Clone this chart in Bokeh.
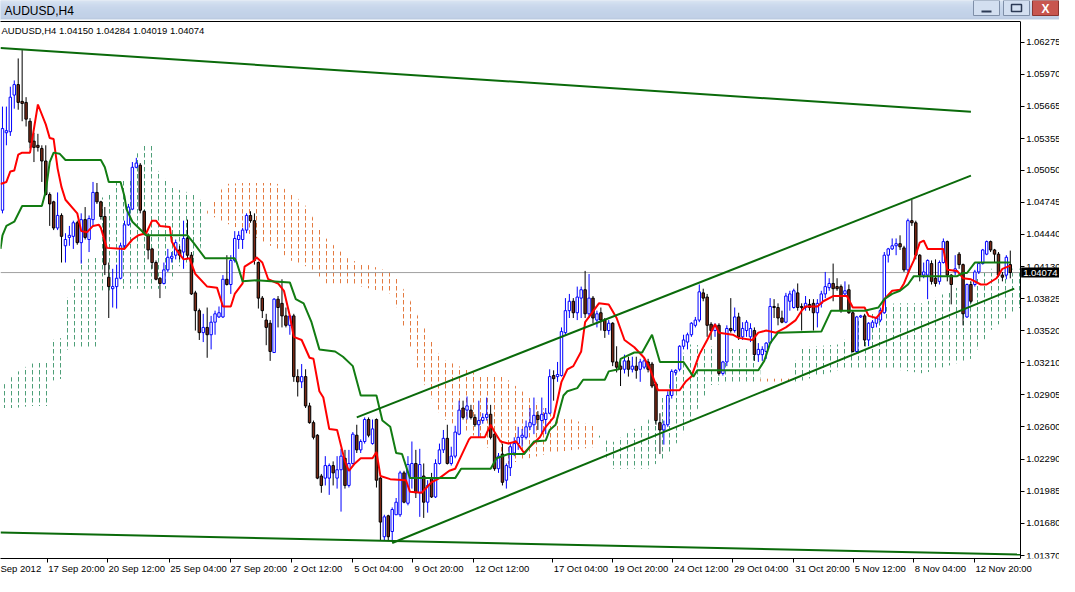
from bokeh.plotting import figure
from bokeh.models import (Range1d, FixedTicker, PrintfTickFormatter, Label, ColumnDataSource,
                          CustomJSTickFormatter, LinearAxis)
from bokeh.layouts import column
from bokeh.embed import file_html
from bokeh.resources import INLINE

# ---------------- data ----------------
opens = [1.0467,1.0541,1.0542,1.0577,1.0587,1.0571,1.0570,1.0552,1.0533,1.0529,
1.0526,1.0514,1.0482,1.0475,1.0450,1.0462,1.0433,1.0441,1.0442,1.0455,
1.0436,1.0458,1.0439,1.0458,1.0484,1.0475,1.0461,1.0403,1.0392,1.0394,
1.0402,1.0433,1.0453,1.0468,1.0508,1.0510,1.0466,1.0443,1.0430,1.0417,
1.0402,1.0397,1.0410,1.0421,1.0424,1.0429,1.0427,1.0440,1.0424,1.0388,
1.0371,1.0350,1.0355,1.0348,1.0360,1.0365,1.0365,1.0401,1.0396,1.0419,
1.0439,1.0439,1.0448,1.0462,1.0457,1.0417,1.0383,1.0362,1.0359,1.0331,
1.0382,1.0378,1.0366,1.0357,1.0366,1.0308,1.0303,1.0308,1.0280,1.0264,
1.0252,1.0213,1.0211,1.0211,1.0223,1.0211,1.0219,1.0230,1.0204,1.0225,
1.0252,1.0238,1.0246,1.0267,1.0244,1.0267,1.0211,1.0155,1.0175,1.0160,
1.0176,1.0176,1.0216,1.0187,1.0211,1.0225,1.0197,1.0213,1.0188,1.0211,
1.0193,1.0225,1.0238,1.0249,1.0225,1.0232,1.0253,1.0278,1.0276,1.0276,
1.0269,1.0262,1.0266,1.0269,1.0272,1.0253,1.0220,1.0234,1.0209,1.0221,
1.0235,1.0244,1.0250,1.0250,1.0260,1.0262,1.0271,1.0266,1.0267,1.0273,
1.0309,1.0308,1.0309,1.0350,1.0371,1.0380,1.0369,1.0383,1.0391,1.0368,
1.0383,1.0362,1.0369,1.0362,1.0352,1.0359,1.0322,1.0318,1.0315,1.0323,
1.0315,1.0318,1.0315,1.0317,1.0322,1.0320,1.0301,1.0264,1.0257,1.0262,
1.0290,1.0312,1.0315,1.0337,1.0341,1.0348,1.0357,1.0362,1.0388,1.0384,
1.0358,1.0352,1.0357,1.0311,1.0322,1.0354,1.0352,1.0365,1.0346,1.0352,
1.0346,1.0352,1.0329,1.0329,1.0332,1.0340,1.0375,1.0374,1.0364,1.0360,
1.0380,1.0374,1.0388,1.0375,1.0374,1.0377,1.0378,1.0369,1.0378,1.0387,
1.0393,1.0397,1.0394,1.0394,1.0387,1.0391,1.0369,1.0332,1.0365,1.0366,
1.0343,1.0355,1.0359,1.0362,1.0369,1.0424,1.0430,1.0433,1.0435,1.0431,
1.0410,1.0457,1.0455,1.0424,1.0405,1.0405,1.0416,1.0402,1.0399,1.0417,
1.0437,1.0405,1.0408,1.0425,1.0415,1.0365,1.0396,1.0396,1.0408,1.0416,
1.0425,1.0437,1.0429,1.0425,1.0405,1.0405,1.04150]

highs = [1.0566,1.0566,1.0585,1.0591,1.0612,1.0620,1.0575,1.0555,1.0541,1.0540,
1.0529,1.0529,1.0484,1.0476,1.0484,1.0464,1.0445,1.0452,1.0457,1.0457,
1.0464,1.0470,1.0462,1.0494,1.0493,1.0476,1.0470,1.0417,1.0411,1.0415,
1.0436,1.0457,1.0473,1.0513,1.0517,1.0512,1.0467,1.0445,1.0431,1.0419,
1.0403,1.0417,1.0430,1.0427,1.0439,1.0433,1.0457,1.0458,1.0427,1.0390,
1.0373,1.0368,1.0374,1.0366,1.0371,1.0375,1.0405,1.0424,1.0424,1.0447,
1.0447,1.0450,1.0464,1.0466,1.0464,1.0418,1.0385,1.0368,1.0362,1.0383,
1.0385,1.0401,1.0374,1.0367,1.0368,1.0315,1.0320,1.0315,1.0283,1.0266,
1.0253,1.0215,1.0232,1.0225,1.0227,1.0232,1.0239,1.0238,1.0238,1.0255,
1.0262,1.0248,1.0269,1.0269,1.0267,1.0268,1.0212,1.0176,1.0176,1.0183,
1.0192,1.0218,1.0218,1.0232,1.0246,1.0238,1.0239,1.0225,1.0209,1.0216,
1.0229,1.0244,1.0257,1.0262,1.0241,1.0261,1.0285,1.0285,1.0289,1.0281,
1.0272,1.0285,1.0273,1.0288,1.0281,1.0254,1.0235,1.0244,1.0225,1.0244,
1.0250,1.0260,1.0258,1.0266,1.0278,1.0288,1.0275,1.0288,1.0278,1.0315,
1.0314,1.0322,1.0355,1.0383,1.0387,1.0383,1.0394,1.0394,1.0409,1.0406,
1.0385,1.0371,1.0374,1.0364,1.0362,1.0360,1.0337,1.0325,1.0329,1.0327,
1.0327,1.0327,1.0325,1.0326,1.0325,1.0322,1.0303,1.0273,1.0266,1.0294,
1.0315,1.0315,1.0338,1.0348,1.0350,1.0360,1.0365,1.0396,1.0392,1.0387,
1.0360,1.0359,1.0359,1.0323,1.0357,1.0383,1.0374,1.0369,1.0360,1.0362,
1.0359,1.0355,1.0340,1.0337,1.0341,1.0383,1.0382,1.0378,1.0371,1.0388,
1.0390,1.0392,1.0397,1.0378,1.0385,1.0382,1.0382,1.0382,1.0390,1.0408,
1.0402,1.0416,1.0402,1.0396,1.0399,1.0396,1.0371,1.0366,1.0367,1.0368,
1.0360,1.0362,1.0365,1.0374,1.0427,1.0431,1.0440,1.0440,1.0443,1.0433,
1.0459,1.0477,1.0457,1.0425,1.0417,1.0420,1.0419,1.0420,1.0419,1.0440,
1.0438,1.0406,1.0424,1.0427,1.0416,1.0397,1.0399,1.0410,1.0417,1.0430,
1.0438,1.0438,1.0430,1.0427,1.0408,1.0424,1.04284]

lows = [1.0464,1.0529,1.0538,1.0564,1.0563,1.0552,1.0547,1.0526,1.0513,1.0523,
1.0494,1.0481,1.0452,1.0448,1.0448,1.0417,1.0417,1.0433,1.0430,1.0434,
1.0416,1.0439,1.0427,1.0452,1.0473,1.0458,1.0405,1.0364,1.0374,1.0373,
1.0401,1.0430,1.0452,1.0467,1.0507,1.0464,1.0443,1.0420,1.0411,1.0400,
1.0383,1.0396,1.0408,1.0417,1.0420,1.0420,1.0411,1.0420,1.0386,1.0352,
1.0343,1.0341,1.0326,1.0334,1.0348,1.0364,1.0364,1.0395,1.0387,1.0417,
1.0430,1.0430,1.0445,1.0455,1.0415,1.0373,1.0364,1.0338,1.0323,1.0331,
1.0355,1.0355,1.0355,1.0348,1.0303,1.0289,1.0297,1.0278,1.0263,1.0248,
1.0210,1.0197,1.0204,1.0195,1.0204,1.0201,1.0179,1.0201,1.0202,1.0224,
1.0235,1.0235,1.0244,1.0250,1.0243,1.0202,1.0151,1.0151,1.0151,1.0150,
1.0176,1.0174,1.0187,1.0185,1.0201,1.0192,1.0174,1.0173,1.0178,1.0192,
1.0192,1.0224,1.0235,1.0224,1.0223,1.0230,1.0252,1.0267,1.0267,1.0267,
1.0260,1.0250,1.0263,1.0266,1.0248,1.0218,1.0216,1.0204,1.0201,1.0213,
1.0232,1.0238,1.0241,1.0248,1.0257,1.0253,1.0257,1.0253,1.0253,1.0272,
1.0285,1.0303,1.0308,1.0348,1.0364,1.0364,1.0362,1.0364,1.0364,1.0364,
1.0359,1.0355,1.0352,1.0345,1.0348,1.0318,1.0312,1.0299,1.0311,1.0308,
1.0312,1.0306,1.0303,1.0315,1.0312,1.0297,1.0262,1.0234,1.0243,1.0260,
1.0287,1.0309,1.0313,1.0334,1.0334,1.0346,1.0355,1.0360,1.0380,1.0346,
1.0343,1.0346,1.0309,1.0309,1.0318,1.0350,1.0350,1.0343,1.0343,1.0346,
1.0341,1.0323,1.0322,1.0323,1.0325,1.0339,1.0364,1.0357,1.0359,1.0359,
1.0371,1.0373,1.0371,1.0352,1.0371,1.0371,1.0352,1.0355,1.0374,1.0383,
1.0390,1.0380,1.0390,1.0369,1.0385,1.0368,1.0331,1.0331,1.0364,1.0337,
1.0337,1.0355,1.0355,1.0360,1.0368,1.0417,1.0429,1.0424,1.0429,1.0408,
1.0408,1.0452,1.0420,1.0399,1.0402,1.0382,1.0396,1.0394,1.0396,1.0416,
1.0399,1.0377,1.0405,1.0411,1.0357,1.0364,1.0378,1.0394,1.0406,1.0415,
1.0424,1.0427,1.0417,1.0403,1.0399,1.0401,1.04019]

closes = [1.0545,1.0543,1.0575,1.0587,1.0570,1.0569,1.0554,1.0532,1.0527,1.0527,
1.0514,1.0482,1.0473,1.0450,1.0462,1.0442,1.0439,1.0443,1.0455,1.0436,
1.0458,1.0441,1.0459,1.0484,1.0475,1.0461,1.0415,1.0394,1.0394,1.0402,
1.0433,1.0453,1.0470,1.0508,1.0512,1.0467,1.0445,1.0429,1.0417,1.0401,
1.0397,1.0410,1.0422,1.0423,1.0436,1.0424,1.0440,1.0424,1.0387,1.0371,
1.0350,1.0355,1.0348,1.0360,1.0368,1.0369,1.0401,1.0396,1.0419,1.0440,
1.0443,1.0448,1.0462,1.0457,1.0419,1.0383,1.0371,1.0355,1.0332,1.0382,
1.0374,1.0366,1.0357,1.0366,1.0308,1.0303,1.0308,1.0280,1.0264,1.0250,
1.0211,1.0204,1.0223,1.0223,1.0216,1.0219,1.0232,1.0204,1.0225,1.0253,
1.0238,1.0246,1.0267,1.0252,1.0258,1.0209,1.0169,1.0174,1.0155,1.0181,
1.0188,1.0216,1.0188,1.0224,1.0225,1.0197,1.0224,1.0188,1.0204,1.0193,
1.0225,1.0238,1.0249,1.0225,1.0232,1.0255,1.0276,1.0269,1.0280,1.0269,
1.0262,1.0266,1.0269,1.0272,1.0250,1.0220,1.0232,1.0207,1.0223,1.0241,
1.0244,1.0250,1.0252,1.0260,1.0264,1.0271,1.0267,1.0272,1.0273,1.0308,
1.0306,1.0310,1.0351,1.0371,1.0380,1.0369,1.0384,1.0391,1.0368,1.0383,
1.0364,1.0368,1.0362,1.0352,1.0359,1.0322,1.0317,1.0315,1.0323,1.0315,
1.0318,1.0314,1.0322,1.0323,1.0315,1.0299,1.0266,1.0257,1.0262,1.0290,
1.0313,1.0314,1.0337,1.0343,1.0348,1.0359,1.0362,1.0389,1.0383,1.0357,
1.0352,1.0357,1.0311,1.0322,1.0354,1.0352,1.0365,1.0346,1.0354,1.0360,
1.0354,1.0329,1.0334,1.0334,1.0340,1.0375,1.0374,1.0364,1.0360,1.0385,
1.0387,1.0390,1.0374,1.0374,1.0378,1.0374,1.0369,1.0378,1.0387,1.0394,
1.0397,1.0392,1.0392,1.0371,1.0390,1.0369,1.0332,1.0365,1.0366,1.0343,
1.0359,1.0360,1.0364,1.0371,1.0424,1.0430,1.0433,1.0435,1.0432,1.0410,
1.0457,1.0455,1.0424,1.0405,1.0408,1.0419,1.0399,1.0397,1.0417,1.0437,
1.0405,1.0396,1.0411,1.0415,1.0368,1.0396,1.0380,1.0408,1.0416,1.0429,
1.0437,1.0429,1.0425,1.0405,1.0403,1.0422,1.04074]

# Tenkan-sen (red) vertices: bar position, price
tenkan_x = [-0.5,1,2,3,4,5,7,9,11,12,13,14,15,16,19,20,21.5,23,24.5,25,26.5,31,33,34.5,36.5,38,39,40,42.5,43,44,45,46,47.5,49,52,54.5,56,58,59,61,61.5,64,64.5,66,67.5,70,71.5,73,74,76,78,79,80.5,81.5,83,85,87,88,89.5,91,94,95,96,98.5,102.5,103.5,106.5,109,111,113.5,115,116.5,118.5,119,122.5,124,125,126.5,128.5,130.5,132.5,134,136.5,138,140,142,143.5,145,147,148,149,151.5,154,156,158,160.5,163,164.5,166.5,172,173.5,175,177,179,181,182,185.5,187,190.5,192,194,196.5,199,201.5,203,204,207,208.5,211,214.5,216,219,220,222,223.5,224,226,228,229,230.5,231.5,233,234,235,239,240,242.5,244,246,248.5,250,252.5,254,256]
tenkan_y = [1.0492,1.0494,1.0504,1.0505,1.0520,1.0522,1.0522,1.0568,1.0549,1.0536,1.0535,1.0507,1.0489,1.0477,1.0464,1.0447,1.0446,1.0452,1.0453,1.0450,1.0431,1.0430,1.0439,1.0443,1.0445,1.0457,1.0457,1.0452,1.0451,1.0437,1.0430,1.0425,1.0420,1.0421,1.0406,1.0394,1.0393,1.0375,1.0375,1.0387,1.0397,1.0413,1.0419,1.0422,1.0417,1.0401,1.0397,1.0390,1.0366,1.0346,1.0343,1.0326,1.0325,1.0294,1.0288,1.0258,1.0257,1.0227,1.0218,1.0225,1.0230,1.0230,1.0236,1.0213,1.0210,1.0209,1.0198,1.0197,1.0207,1.0211,1.0218,1.0220,1.0232,1.0248,1.0250,1.0250,1.0262,1.0255,1.0246,1.0244,1.0246,1.0235,1.0241,1.0250,1.0260,1.0269,1.0303,1.0315,1.0318,1.0332,1.0360,1.0365,1.0378,1.0377,1.0364,1.0343,1.0336,1.0326,1.0315,1.0295,1.0295,1.0303,1.0308,1.0329,1.0343,1.0358,1.0350,1.0348,1.0345,1.0343,1.0350,1.0352,1.0350,1.0355,1.0362,1.0371,1.0375,1.0375,1.0380,1.0385,1.0385,1.0374,1.0374,1.0366,1.0364,1.0371,1.0382,1.0390,1.0391,1.0397,1.0411,1.0419,1.0436,1.0438,1.0430,1.0430,1.0410,1.0409,1.0402,1.0401,1.0396,1.0396,1.0402,1.0411,1.0414]

# Kijun-sen (green) vertices
kijun_x = [-0.5,0,1,3,5,10,11,12,13,14.5,16,25,26,27,30,31,31.5,33,36.5,37,47,48.5,51.5,59,59.5,61,64.5,73,74.5,76.5,78.5,80.5,84.5,86.5,89,91,95,96.5,98.5,100,101.5,103.5,115,116.5,124,125.5,128.5,132.5,135,138,139,140.5,142.5,143.5,146,147.5,153,154,156.5,157,160.5,162.5,165,167,173,175.5,176.5,192,193.5,195,197,208,210.5,219,222.5,224,226,228,230,231.5,242.5,244,245,247,256]
kijun_y = [1.0430,1.0443,1.0452,1.0456,1.0471,1.0471,1.0485,1.0513,1.0522,1.0521,1.0515,1.0515,1.0508,1.0494,1.0494,1.0480,1.0468,1.0456,1.0443,1.0443,1.0443,1.0436,1.0421,1.0421,1.0417,1.0399,1.0400,1.0398,1.0382,1.0378,1.0360,1.0334,1.0332,1.0327,1.0318,1.0290,1.0290,1.0266,1.0260,1.0235,1.0234,1.0211,1.0211,1.0220,1.0220,1.0230,1.0234,1.0234,1.0246,1.0247,1.0257,1.0262,1.0290,1.0294,1.0297,1.0305,1.0305,1.0313,1.0315,1.0325,1.0331,1.0331,1.0348,1.0322,1.0322,1.0308,1.0314,1.0314,1.0323,1.0340,1.0350,1.0351,1.0371,1.0371,1.0374,1.0382,1.0387,1.0390,1.0396,1.0404,1.0404,1.0407,1.0407,1.0417,1.0417]

# Kumo (cloud) areas between Senkou spans
cloud_g1_x = [-0.5,3.25,7,11.5,12.5,15,16,17.5,19.5,24,24.5,27.5,28,33,34,36,39,39.5,42.5,44,49.5,52]
cloud_g1_top = [1.0297,1.0311,1.0320,1.0323,1.0343,1.0345,1.0380,1.0390,1.0419,1.0422,1.0478,1.0482,1.0494,1.0496,1.0520,1.0529,1.0529,1.0505,1.0492,1.0487,1.0482,1.0466]
cloud_g1_bot = [1.0278,1.0278,1.0280,1.0280,1.0304,1.0306,1.0334,1.0334,1.0336,1.0336,1.0390,1.0390,1.0392,1.0392,1.0392,1.0392,1.0392,1.0392,1.0392,1.0413,1.0416,1.0462]
cloud_o1_x = [52,53,56.5,61,69.5,74,76.5,82,88,99,103,106,111.5,121.5,127,139,151,151.5]
cloud_o1_top = [1.0466,1.0471,1.0492,1.0493,1.0493,1.0481,1.0474,1.0441,1.0420,1.0408,1.0385,1.0362,1.0325,1.0309,1.0309,1.0273,1.0260,1.0252]
cloud_o1_bot = [1.0462,1.0462,1.0455,1.0448,1.0430,1.0417,1.0415,1.0397,1.0397,1.0387,1.0343,1.0309,1.0269,1.0248,1.0223,1.0235,1.0241,1.0250]
cloud_g2_x = [151.5,154.5,164,169,174,180,192,192.5]
cloud_g2_top = [1.0252,1.0244,1.0266,1.0297,1.0339,1.0337,1.0334,1.0318]
cloud_g2_bot = [1.0250,1.0220,1.0220,1.0232,1.0260,1.0300,1.0303,1.0304]
cloud_o2_x = [192.5,200]
cloud_o2_top = [1.0306,1.0306]
cloud_o2_bot = [1.0302,1.0302]
cloud_g3_x = [200,203,213,218,226.5,234,246,251,258.5]
cloud_g3_top = [1.0311,1.0336,1.0339,1.0364,1.0378,1.0378,1.0399,1.0411,1.0411]
cloud_g3_bot = [1.0301,1.0304,1.0315,1.0315,1.0315,1.0311,1.0325,1.0352,1.0374]

# hand-drawn trend lines (bar, price endpoints)
trend_x = [[-0.5, 246], [-0.5, 258.5], [90, 246], [99, 257]]
trend_y = [[1.0622, 1.0561], [1.0159, 1.0138], [1.0269, 1.0500], [1.0149, 1.0392]]

bid_price = 1.04074
symbol = "AUDUSD,H4"
ohlc_text = "1.04150 1.04284 1.04019 1.04074"

price_ticks = [1.06275,1.05970,1.05665,1.05355,1.05050,1.04745,1.04440,1.04130,
               1.03825,1.03520,1.03210,1.02905,1.02600,1.02290,1.01985,1.01680,1.01370]
date_labels = ["Sep 2012","17 Sep 20:00","20 Sep 12:00","25 Sep 04:00","27 Sep 20:00",
               "2 Oct 12:00","5 Oct 04:00","9 Oct 20:00","12 Oct 12:00","17 Oct 04:00",
               "19 Oct 20:00","24 Oct 12:00","29 Oct 04:00","31 Oct 20:00","5 Nov 12:00",
               "8 Nov 04:00","12 Nov 20:00"]
date_pos = [-0.6,11.5,26.8,42.5,57.8,73.3,88.8,104.1,119.6,139.6,154.9,170.2,185.4,201.0,216.2,231.5,247.0]

# ---------------- figure ----------------
W = 1059
FONT = "Liberation Sans"
X0, XR = -0.5, 258.5      # chart area (bars)
XE = 268.5                # right end incl. price scale strip
Y0, Y1 = 1.01342, 1.06473
PXB = W / (XE - X0)       # pixels per bar

n = len(closes)
xs = list(range(n))
bull = [c >= o for o, c in zip(opens, closes)]
src = ColumnDataSource(dict(
    x=xs, h=highs, l=lows,
    top=[max(o, c) for o, c in zip(opens, closes)],
    bot=[min(o, c) for o, c in zip(opens, closes)],
    wick=["#0000ff" if b else "#000000" for b in bull],
    edge=["#0000ff" if b else "#000000" for b in bull],
    fill=["#ffffff" if b else "#7a2a16" for b in bull],
))

# title bar
tb = figure(width=W, height=20, x_range=Range1d(0, W), y_range=Range1d(0, 20),
            toolbar_location=None, output_backend="svg", min_border=0)
tb.axis.visible = False
tb.grid.visible = False
tb.outline_line_color = None
tb.background_fill_color = "#c8d7eb"
grad = ["#dfe8f4", "#dae5f3", "#d6e2f1", "#d2dff0", "#cfdcee", "#ccdaed", "#c9d8ec", "#c7d6eb",
        "#c5d5ea", "#c4d4e9", "#c3d3e9", "#c2d2e8", "#c1d1e8", "#c0d0e7", "#c0d0e7", "#bfcfe6",
        "#bfcfe6", "#bccce3", "#b5c5dc", "#ffffff"]
for i, col in enumerate(grad):
    tb.quad(left=0, right=W, top=20 - i, bottom=19 - i, fill_color=col, line_color=None)
tb.add_layout(Label(x=4, y=10, text=symbol, text_baseline="middle", text_font=FONT,
                    text_font_size="12px", text_color="#000000"))
# window buttons
tb.quad(left=[973, 1003], right=[999, 1029], top=[20, 20], bottom=[5, 5],
        fill_color="#d3dff0", line_color="#7f8fa8")
tb.quad(left=[1032], right=[1058], top=[20], bottom=[5], fill_color="#c8564f", line_color="#8a3530")
tb.quad(left=[981], right=[991], top=[10], bottom=[8], fill_color="#2c3a55", line_color=None)
tb.quad(left=[1011], right=[1021], top=[16], bottom=[9], fill_color=None, line_color="#2c3a55", line_width=1.5)
tb.add_layout(Label(x=1045, y=12, text="X", text_align="center", text_baseline="middle",
                    text_font=FONT, text_font_size="12px", text_font_style="bold",
                    text_color="#ffffff"))

p = figure(width=W, height=556, x_range=Range1d(X0, XE), y_range=Range1d(Y0, Y1),
           toolbar_location=None, output_backend="svg", y_axis_location=None,
           x_axis_location=None, min_border=0,
           min_border_left=0, min_border_top=1, min_border_right=0, min_border_bottom=0)
p.grid.visible = False
p.background_fill_color = "#ffffff"
p.border_fill_color = "#ffffff"
p.outline_line_color = None

# cloud
def cloud(xv, lo, hi, col):
    p.varea(x=xv, y1=lo, y2=hi, fill_alpha=0, hatch_pattern=":", hatch_color=col,
            hatch_scale=7, hatch_weight=1)

GREEN_DOT = "#4e9f78"
ORANGE_DOT = "#e37a40"
cloud(cloud_g1_x, cloud_g1_bot, cloud_g1_top, GREEN_DOT)
cloud(cloud_o1_x, cloud_o1_bot, cloud_o1_top, ORANGE_DOT)
cloud(cloud_g2_x, cloud_g2_bot, cloud_g2_top, GREEN_DOT)
cloud(cloud_o2_x, cloud_o2_bot, cloud_o2_top, ORANGE_DOT)
cloud(cloud_g3_x, cloud_g3_bot, cloud_g3_top, GREEN_DOT)

# bid line
p.line([X0, XR], [bid_price, bid_price], line_color="#a0a0a0", line_width=1)

# candles
p.segment(x0="x", y0="l", x1="x", y1="h", line_color="wick", line_width=1, source=src)
p.vbar(x="x", width=0.62, top="top", bottom="bot", fill_color="fill", line_color="edge",
       line_width=1, source=src)

# ichimoku lines
p.line(tenkan_x, tenkan_y, line_color="#ff0000", line_width=2)
p.line(kijun_x, kijun_y, line_color="#127c12", line_width=2)

# trend lines
p.multi_line(trend_x, trend_y, line_color="#0a6a0a", line_width=2)

# info text
p.add_layout(Label(x=X0, y=Y1, x_offset=1, y_offset=-9, text=symbol + "  " + ohlc_text,
                   text_baseline="middle", text_font=FONT, text_font_size="9.5px",
                   text_color="#000000"))

# price scale, sitting at the right edge of the bar area
ya = LinearAxis(fixed_location=XR, ticker=FixedTicker(ticks=price_ticks),
                formatter=PrintfTickFormatter(format="%.5f"))
ya.major_tick_in = 0
ya.major_tick_out = 4
ya.minor_tick_out = 0
ya.minor_tick_in = 0
ya.axis_line_color = "#000000"
ya.major_tick_line_color = "#000000"
ya.major_label_standoff = 2
ya.major_label_text_font = FONT
ya.major_label_text_font_size = "9.5px"
ya.major_label_text_color = "#000000"
p.add_layout(ya, "right")

# frame top border
ta = LinearAxis(bounds=(X0, XR), ticker=FixedTicker(ticks=[]))
ta.major_tick_in = 0
ta.major_tick_out = 0
ta.minor_tick_in = 0
ta.minor_tick_out = 0
ta.major_label_text_font_size = "0px"
ta.major_label_standoff = 0
ta.axis_label_standoff = 0
ta.axis_line_color = "#000000"
p.add_layout(ta, "above")

# bottom time axis: labels start right of each tick like the terminal does
centers = [d + (3 + 4.3 * len(s) / 2) / PXB for d, s in zip(date_pos, date_labels)]
xa = LinearAxis(bounds=(X0, XR), ticker=FixedTicker(ticks=centers, minor_ticks=date_pos))
xa.formatter = CustomJSTickFormatter(args=dict(pos=centers, labs=date_labels), code="""
    let best = 0, bd = 1e9;
    for (let i = 0; i < pos.length; i++) { const d = Math.abs(pos[i] - tick); if (d < bd) { bd = d; best = i; } }
    return labs[best];
""")
xa.major_tick_in = 0
xa.major_tick_out = 0
xa.minor_tick_in = 0
xa.minor_tick_out = 4
xa.minor_tick_line_color = "#000000"
xa.axis_line_color = "#000000"
xa.major_label_standoff = 0
xa.axis_label_standoff = 0
xa.axis_label_text_font_size = "0px"
xa.major_label_text_font = FONT
xa.major_label_text_font_size = "9.5px"
xa.major_label_text_color = "#000000"
p.add_layout(xa, "below")

# current price tag on the price scale
p.add_layout(Label(x=XR, y=bid_price, x_offset=1, text="1.04074", text_baseline="middle",
                   text_font=FONT, text_font_size="9.5px", text_color="#ffffff",
                   background_fill_color="#000000", padding=2))

layout = column(tb, p, spacing=0)
open("out.html", "w").write(file_html(layout, INLINE))
